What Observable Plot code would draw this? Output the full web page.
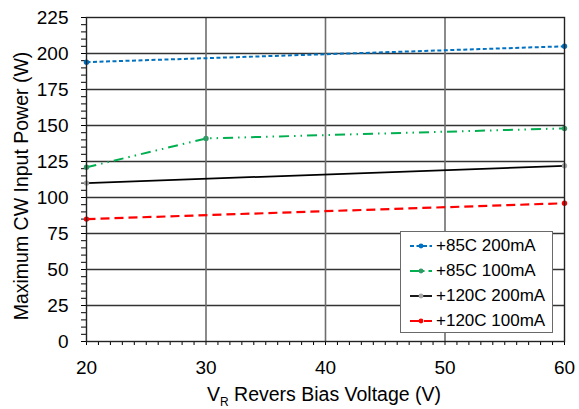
<!DOCTYPE html>
<html><head><meta charset="utf-8">
<script src="https://cdn.jsdelivr.net/npm/d3@7"></script>
<script src="https://cdn.jsdelivr.net/npm/@observablehq/plot@0.6"></script>
<style>
body{margin:0;background:#fff;font-family:"Liberation Sans",Arial,sans-serif}
#wrap{position:relative;width:579px;height:409px;overflow:hidden}
#legend{position:absolute;left:400px;top:231px;width:153px;height:102px;border:1px solid #6a6a6a;background:#fff;box-sizing:border-box}
.row{position:absolute;left:8px;height:20px;display:flex;align-items:center;font-size:17px;color:#000;white-space:nowrap}
.row svg{margin-right:3px}
</style></head><body><div id="wrap"><div id="legend"></div></div>
<script>
// Data
const seriesNames = ["+85C 200mA", "+85C 100mA", "+120C 200mA", "+120C 100mA"];
const blueX = [20, 60],      blueY = [194, 205];
const greenX = [20, 30, 60], greenY = [121, 141, 148];
const blackX = [20, 60],     blackY = [110, 122];
const redX = [20, 60],       redY = [85, 96];
const xMajor = [20, 30, 40, 50, 60];
const yMajor = [0, 25, 50, 75, 100, 125, 150, 175, 200, 225];

const styles = [
  {line: "#0070C0", marker: "#0070C0", dash: "4,2.5", w: 2},
  {line: "#00B050", marker: "#339966", dash: "10,5,1.5,5,1.5,5", w: 2},
  {line: "#000000", marker: "#A6A6A6", dash: null, w: 1.8},
  {line: "#FF0000", marker: "#FF0000", dash: "9,5", w: 2.2}
];
const xs = [blueX, greenX, blackX, redX];
const ys = [blueY, greenY, blackY, redY];
const rows = seriesNames.map((s, i) => xs[i].map((x, j) => ({series: s, x, y: ys[i][j]})));

const minorX = d3.range(20, 61, 1);
const minorY = d3.range(0, 226, 5);

const lineMarks = rows.flatMap((r, i) => [
  Plot.line(r, {x: "x", y: "y", stroke: styles[i].line, strokeWidth: styles[i].w, strokeDasharray: styles[i].dash, strokeLinecap: "butt"}),
  Plot.dot(r, {x: "x", y: "y", r: 2.7, fill: styles[i].marker, stroke: "none"})
]);

const chart = Plot.plot({
  width: 579, height: 409,
  marginLeft: 86, marginRight: 15, marginTop: 17, marginBottom: 68,
  style: {fontFamily: "Liberation Sans, Arial, sans-serif", fontSize: "20px", color: "#000", background: "#fff"},
  x: {domain: [20, 60]},
  y: {domain: [0, 225]},
  marks: [
    Plot.ruleY(yMajor.filter(d => d > 0 && d < 225), {stroke: "#333", strokeWidth: 1.3}),
    Plot.ruleX(xMajor.filter(d => d > 20 && d < 60), {stroke: "#6e6e6e", strokeWidth: 1.6}),
    Plot.axisX({ticks: minorX, tickSize: 4, tickFormat: () => "", label: null, stroke: "#000"}),
    Plot.axisX({ticks: xMajor, tickSize: 0, tickPadding: 19, label: null, fontSize: 19}),
    Plot.axisY({ticks: minorY, tickSize: 5, tickFormat: () => "", label: null, stroke: "#000"}),
    Plot.axisY({ticks: yMajor, tickSize: 0, tickPadding: 18, label: null, fontSize: 19}),
    ...lineMarks,
    Plot.frame({stroke: "#222", strokeWidth: 1.4})
  ]
});

const wrap = document.getElementById("wrap");
wrap.insertBefore(chart, wrap.firstChild);

const svg = d3.select(chart);
svg.append("text")
  .attr("transform", "translate(23,186) rotate(-90)")
  .attr("text-anchor", "middle")
  .attr("dominant-baseline", "middle")
  .attr("font-size", 19.5)
  .attr("fill", "#000")
  .text("Maximum CW Input Power (W)");
const xt = svg.append("text")
  .attr("x", 324).attr("y", 401)
  .attr("text-anchor", "middle")
  .attr("font-size", 19.5)
  .attr("fill", "#000");
xt.append("tspan").text("V");
xt.append("tspan").attr("font-size", 12).attr("dy", 5).text("R");
xt.append("tspan").attr("dy", -5).text(" Revers Bias Voltage (V)");

// Legend
const legend = document.getElementById("legend");
const rowTops = [4, 29, 54, 79];
seriesNames.forEach((s, i) => {
  const st = styles[i];
  const div = document.createElement("div");
  div.className = "row";
  div.style.top = rowTops[i] + "px";
  div.innerHTML = `<svg width="24" height="10"><line x1="1" x2="23" y1="5" y2="5" stroke="${st.line}" stroke-width="${st.w}" ${st.dash ? `stroke-dasharray="${i===1 ? '9,4,1.5,4' : st.dash}"` : ""}/><circle cx="12" cy="5" r="2.4" fill="${st.marker}"/></svg><span>${s}</span>`;
  legend.appendChild(div);
});
</script>
</body></html>
